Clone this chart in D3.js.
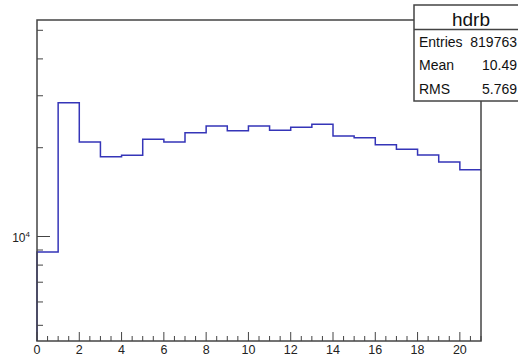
<!DOCTYPE html>
<html>
<head>
<meta charset="utf-8">
<script src="https://cdn.jsdelivr.net/npm/d3@7"></script>
<style>
  body { margin: 0; background: #fff; }
  svg { font-family: "Liberation Sans", Arial, sans-serif; }
</style>
</head>
<body>
<div id="chart"></div>
<script>
// hdrb - histogram 21 bin, sumbu y logaritmik (gaya ROOT)

const binEdges = d3.range(0, 22);          // 0..21
const counts = [8860, 28420, 20900, 18640, 18850, 21360, 20900, 22490, 23700, 22840,
                23700, 22900, 23460, 24010, 21910, 21620, 20470, 19750, 18890, 17880, 16840];
const xTicks = [0, 2, 4, 6, 8, 10, 12, 14, 16, 18, 20];
const statLabels = ["Entries", "Mean", "RMS"];
const statValues = ["819763", "10.49", "5.769"];
const histName = "hdrb";

const margin = { top: 20, right: 37, bottom: 15, left: 37 };
const W = 518, H = 356;
const width = W - margin.left - margin.right;
const height = H - margin.top - margin.bottom;

const svg = d3.select("#chart")
  .append("svg")
  .attr("width", W)
  .attr("height", H);

const g = svg.append("g")
  .attr("transform", `translate(${margin.left},${margin.top})`);

const x = d3.scaleLinear().domain([0, 21]).range([0, width]);
const y = d3.scaleLog().domain([4424, 54190]).range([height, 0]);

const axisColor = "#444";

// Garis histogram (step)
let pts = [[x(0), height]];
counts.forEach((c, i) => {
  pts.push([x(binEdges[i]), y(c)]);
  pts.push([x(binEdges[i + 1]), y(c)]);
});
g.append("path")
  .attr("d", d3.line()(pts))
  .attr("fill", "none")
  .attr("stroke", "#3535b8")
  .attr("stroke-width", 1.5);

// Frame
g.append("rect")
  .attr("width", width)
  .attr("height", height)
  .attr("fill", "none")
  .attr("stroke", axisColor)
  .attr("stroke-width", 1.5);

// Sumbu X: mayor tiap 2, minor tiap 0.5
const xMinor = d3.range(0, 21.01, 0.5).filter(v => v % 2 !== 0);
g.selectAll(".xminor").data(xMinor).enter().append("line")
  .attr("x1", d => x(d)).attr("x2", d => x(d))
  .attr("y1", height).attr("y2", height - 5)
  .attr("stroke", axisColor);
g.selectAll(".xmajor").data(xTicks).enter().append("line")
  .attr("x1", d => x(d)).attr("x2", d => x(d))
  .attr("y1", height).attr("y2", height - 9)
  .attr("stroke", axisColor);
g.selectAll(".xlab").data(xTicks).enter().append("text")
  .attr("x", d => x(d))
  .attr("y", height + 13)
  .attr("text-anchor", "middle")
  .style("font-size", "12.5px")
  .attr("fill", "#222")
  .text(d => d);

// Sumbu Y: log, minor 2..9 tiap dekade
const yMinor = [];
[1000, 10000].forEach(dec => d3.range(2, 10).forEach(m => {
  const v = m * dec;
  if (v >= y.domain()[0] && v <= y.domain()[1]) yMinor.push(v);
}));
g.selectAll(".yminor").data(yMinor).enter().append("line")
  .attr("x1", 0).attr("x2", 6)
  .attr("y1", d => y(d)).attr("y2", d => y(d))
  .attr("stroke", axisColor);
g.append("line")
  .attr("x1", 0).attr("x2", 13)
  .attr("y1", y(10000)).attr("y2", y(10000))
  .attr("stroke", axisColor);
const yl = g.append("text")
  .attr("x", -7)
  .attr("y", y(10000) + 5)
  .attr("text-anchor", "end")
  .style("font-size", "12px")
  .attr("fill", "#222");
yl.append("tspan").text("10");
yl.append("tspan").attr("dy", -5).style("font-size", "8px").text("4");

// Kotak statistik
const box = svg.append("g").attr("transform", "translate(414,5)");
box.append("rect")
  .attr("width", 114).attr("height", 96)
  .attr("fill", "#fff")
  .attr("stroke", axisColor)
  .attr("stroke-width", 1.5);
box.append("line")
  .attr("x1", 0).attr("x2", 114)
  .attr("y1", 24.5).attr("y2", 24.5)
  .attr("stroke", axisColor)
  .attr("stroke-width", 1.5);
box.append("text")
  .attr("x", 57).attr("y", 21)
  .attr("text-anchor", "middle")
  .style("font-size", "19px")
  .attr("fill", "#111")
  .text(histName);
statLabels.forEach((lab, i) => {
  const yy = 42 + i * 23.3;
  box.append("text")
    .attr("x", 5).attr("y", yy)
    .style("font-size", "14px")
    .attr("fill", "#111")
    .text(lab);
  box.append("text")
    .attr("x", 103).attr("y", yy)
    .attr("text-anchor", "end")
    .style("font-size", "14px")
    .attr("fill", "#111")
    .text(statValues[i]);
});
</script>
</body>
</html>
